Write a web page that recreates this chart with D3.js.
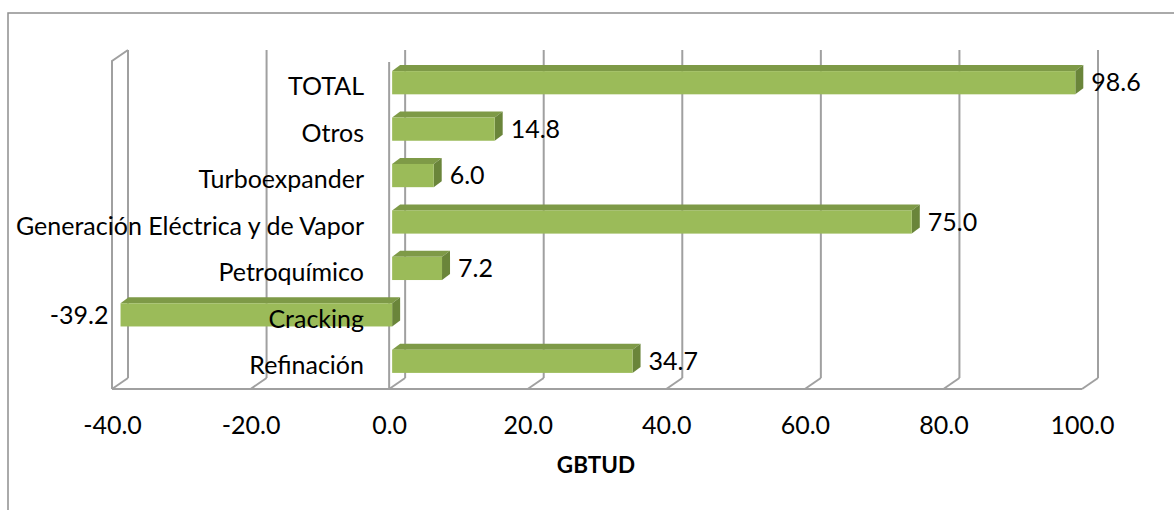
<!DOCTYPE html>
<html>
<head>
<meta charset="utf-8">
<script src="https://cdn.jsdelivr.net/npm/d3@7"></script>
<style>
  body { margin: 0; background: #fff; }
  text { font-family: Lato, "Noto Sans", sans-serif; fill: #000; }
</style>
</head>
<body>
<div id="chart"></div>
<script>
// Data (GBTUD)
const categories = ["TOTAL", "Otros", "Turboexpander", "Generación Eléctrica y de Vapor", "Petroquímico", "Cracking", "Refinación"];
const values = [98.6, 14.8, 6.0, 75.0, 7.2, -39.2, 34.7];
const tickValues = [-40, -20, 0, 20, 40, 60, 80, 100];
const axisTitle = "GBTUD";

const width = 1174, height = 510;
const fontSize = 25;

// 3D offsets: back wall relative to front plane, and bar thickness
const wall = { dx: 16, dy: -11 };
const bar = { dx: 8, dy: -6, shift: 3, lift: 4.5 };
const floorY = 389, wallTop = 61;

// Excel style numbers, plain hyphen for negatives
const fmt = v => d3.format(".1f")(v).replace("\u2212", "-");

const svg = d3.select("#chart").append("svg")
    .attr("width", width)
    .attr("height", height);

// chart area border (runs off the right and bottom of the picture)
svg.append("rect")
    .attr("x", 8).attr("y", 13)
    .attr("width", 1200).attr("height", 600)
    .attr("fill", "none")
    .attr("stroke", "#8f8f8f")
    .attr("stroke-width", 1.5);

const x = d3.scaleLinear().domain([-40, 100]).range([112, 1082]);
const y = d3.scaleBand().domain(categories).range([64, 389]).paddingInner(0.5).paddingOuter(0.25);
const yc = d => y(d) + y.bandwidth() / 2;

const gridColor = "#a0a0a0";
const grid = svg.append("g")
    .attr("stroke", gridColor)
    .attr("stroke-width", 2)
    .attr("fill", "none");

// back wall verticals
grid.selectAll(".back").data(tickValues).enter().append("line")
    .attr("x1", d => x(d) + wall.dx).attr("x2", d => x(d) + wall.dx)
    .attr("y1", wallTop + wall.dy).attr("y2", floorY + wall.dy);

// floor diagonals
grid.selectAll(".floor").data(tickValues).enter().append("line")
    .attr("x1", d => x(d)).attr("x2", d => x(d) + wall.dx)
    .attr("y1", floorY).attr("y2", floorY + wall.dy);

// floor front edge
grid.append("line")
    .attr("x1", x(-40)).attr("x2", x(100))
    .attr("y1", floorY).attr("y2", floorY);

// side wall on the left
grid.append("path")
    .attr("d", `M${x(-40)},${floorY} V${wallTop} L${x(-40) + wall.dx},${wallTop + wall.dy}`);

// category axis at zero
grid.append("line")
    .attr("x1", x(0)).attr("x2", x(0))
    .attr("y1", wallTop + 1).attr("y2", floorY);

// bars: front, top and end faces
const bx = v => x(v) + bar.shift;
const bh = y.bandwidth();
const bars = svg.append("g").selectAll("g").data(categories).enter().append("g")
    .attr("transform", d => `translate(0,${yc(d) - bar.lift - bh / 2})`);

bars.each(function(d, i) {
    const g = d3.select(this);
    const v = values[i];
    const x0 = bx(Math.min(0, v)), x1 = bx(Math.max(0, v));
    g.append("path")
        .attr("d", `M${x0},0 L${x0 + bar.dx},${bar.dy} H${x1 + bar.dx} L${x1},0 Z`)
        .attr("fill", "#7e9a47");
    g.append("path")
        .attr("d", `M${x1},0 L${x1 + bar.dx},${bar.dy} V${bh + bar.dy} L${x1},${bh} Z`)
        .attr("fill", "#6a853a");
    g.append("rect")
        .attr("x", x0).attr("y", 0)
        .attr("width", x1 - x0).attr("height", bh)
        .attr("fill", "#9bbb59");
});

// category labels (on top of the bars, like Cracking in the original)
svg.append("g").selectAll("text").data(categories).enter().append("text")
    .attr("x", 364)
    .attr("y", d => yc(d) - 0.5)
    .attr("dy", "0.35em")
    .attr("text-anchor", "end")
    .attr("font-size", fontSize)
    .text(d => d);

// value labels
svg.append("g").selectAll("text").data(values).enter().append("text")
    .attr("x", v => v >= 0 ? bx(v) + bar.dx + 8 : bx(v) - 12)
    .attr("y", (v, i) => yc(categories[i]) - bar.lift)
    .attr("dy", "0.35em")
    .attr("text-anchor", v => v >= 0 ? "start" : "end")
    .attr("font-size", fontSize)
    .text(fmt);

// value axis tick labels
const axis = svg.append("g")
    .attr("transform", `translate(0,${floorY + 24})`)
    .call(d3.axisBottom(x).tickValues(tickValues).tickFormat(fmt).tickSize(0));
axis.select(".domain").remove();
axis.selectAll("text")
    .attr("font-size", fontSize)
    .attr("font-family", "Lato, 'Noto Sans', sans-serif")
    .attr("fill", "#000");

svg.append("text")
    .attr("x", 596).attr("y", 465)
    .attr("dy", "0.35em")
    .attr("text-anchor", "middle")
    .attr("font-size", 22.5)
    .attr("font-weight", "bold")
    .text(axisTitle);
</script>
</body>
</html>
